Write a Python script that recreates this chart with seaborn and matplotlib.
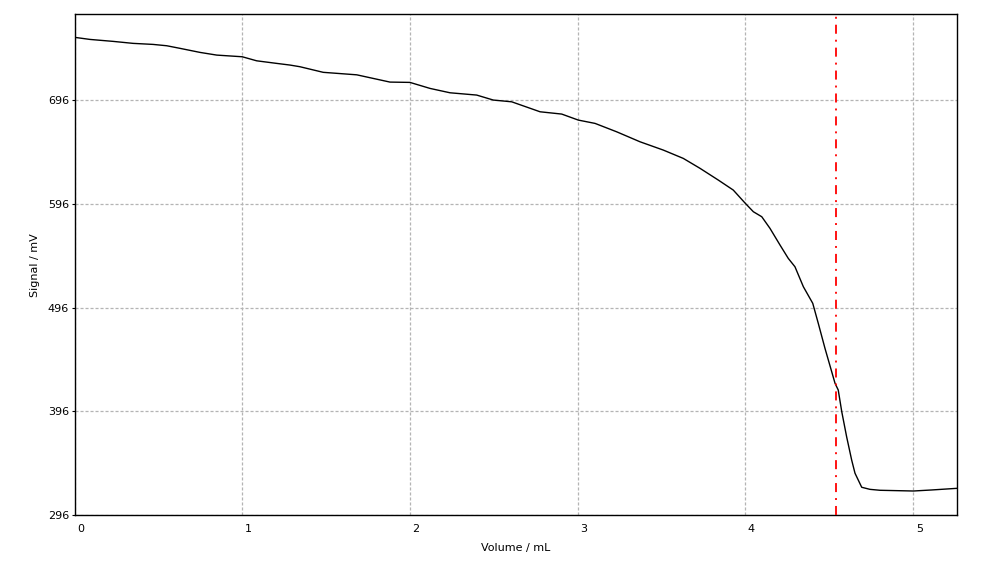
import matplotlib
matplotlib.use("Agg")
import matplotlib.pyplot as plt
import matplotlib.transforms as mtransforms
import seaborn as sns
import pandas as pd

# ---- data ----
volume_ml = [0.000, 0.091, 0.230, 0.348, 0.467, 0.549, 0.628, 0.747, 0.847, 0.999,
             1.085, 1.205, 1.284, 1.343, 1.482, 1.682, 1.880, 1.999, 2.119, 2.238,
             2.397, 2.496, 2.606, 2.775, 2.904, 3.003, 3.103, 3.232, 3.371, 3.510,
             3.629, 3.729, 3.838, 3.927, 3.999, 4.047, 4.097, 4.146, 4.206, 4.255,
             4.295, 4.345, 4.401, 4.434, 4.474, 4.534, 4.553, 4.574, 4.603, 4.633,
             4.653, 4.693, 4.742, 4.802, 5.001, 5.110, 5.263]
signal_mv = [756.4, 754.4, 752.5, 750.6, 749.6, 748.3, 745.8, 741.9, 739.3, 737.7,
             733.8, 731.3, 729.7, 728.1, 722.7, 720.3, 713.3, 713.0, 707.2, 703.0,
             700.8, 696.0, 694.3, 684.7, 682.5, 676.7, 673.5, 665.4, 655.8, 647.8,
             639.8, 630.2, 618.9, 609.3, 596.5, 588.4, 583.6, 572.4, 556.3, 543.5,
             535.4, 516.2, 500.2, 480.9, 456.8, 423.1, 416.7, 395.8, 371.7, 349.3,
             336.5, 323.0, 321.0, 320.1, 319.4, 320.4, 322.0]
endpoint_ml = 4.541

x_ticks = [0, 1, 2, 3, 4, 5]
y_ticks = [296, 396, 496, 596, 696]

df = pd.DataFrame({"Volume": volume_ml, "Signal": signal_mv})

sns.set_theme(style="white")
plt.rcParams["font.family"] = ["DejaVu Sans"]
plt.rcParams["lines.scale_dashes"] = False

fig = plt.figure(figsize=(9.81, 5.69), dpi=100)
ax = fig.add_axes([74.7 / 981, 1 - 515.3 / 569, (957.3 - 74.7) / 981, (515.3 - 14.3) / 569])

sns.lineplot(data=df, x="Volume", y="Signal", ax=ax, color="black", linewidth=1.0,
             sort=False, zorder=3)
ax.axvline(endpoint_ml, color="red", linewidth=1.3, linestyle=(0, (6.5, 4.3, 1.4, 4.3)), zorder=4)

ax.set_xlim(0, 5.263)
ax.set_ylim(296, 778.6)
ax.set_xticks(x_ticks)
ax.set_yticks(y_ticks)
ax.set_xticklabels([str(t) for t in x_ticks])
ax.set_yticklabels([str(t) for t in y_ticks])

ax.grid(True, color="#b4b4b4", linestyle=(0, (2.2, 1.4)), linewidth=0.9)
ax.set_axisbelow(True)

for sp in ax.spines.values():
    sp.set_visible(True)
    sp.set_color("black")
    sp.set_linewidth(1.0)

ax.tick_params(axis="y", length=2, width=0.8, color="black", pad=2, labelsize=8, labelcolor="black", left=True)
ax.tick_params(axis="x", length=0, pad=6, labelsize=8, labelcolor="black", bottom=True)
# x labels sit a little right of their grid lines
offset = mtransforms.ScaledTranslation(6 / 100, 0, fig.dpi_scale_trans)
for lbl in ax.get_xticklabels():
    lbl.set_transform(lbl.get_transform() + offset)

ax.set_xlabel("Volume / mL", fontsize=8, color="black", labelpad=7)
ax.set_ylabel("Signal / mV", fontsize=8, color="black", labelpad=6)

fig.savefig("out.png", dpi=100, facecolor="white")
